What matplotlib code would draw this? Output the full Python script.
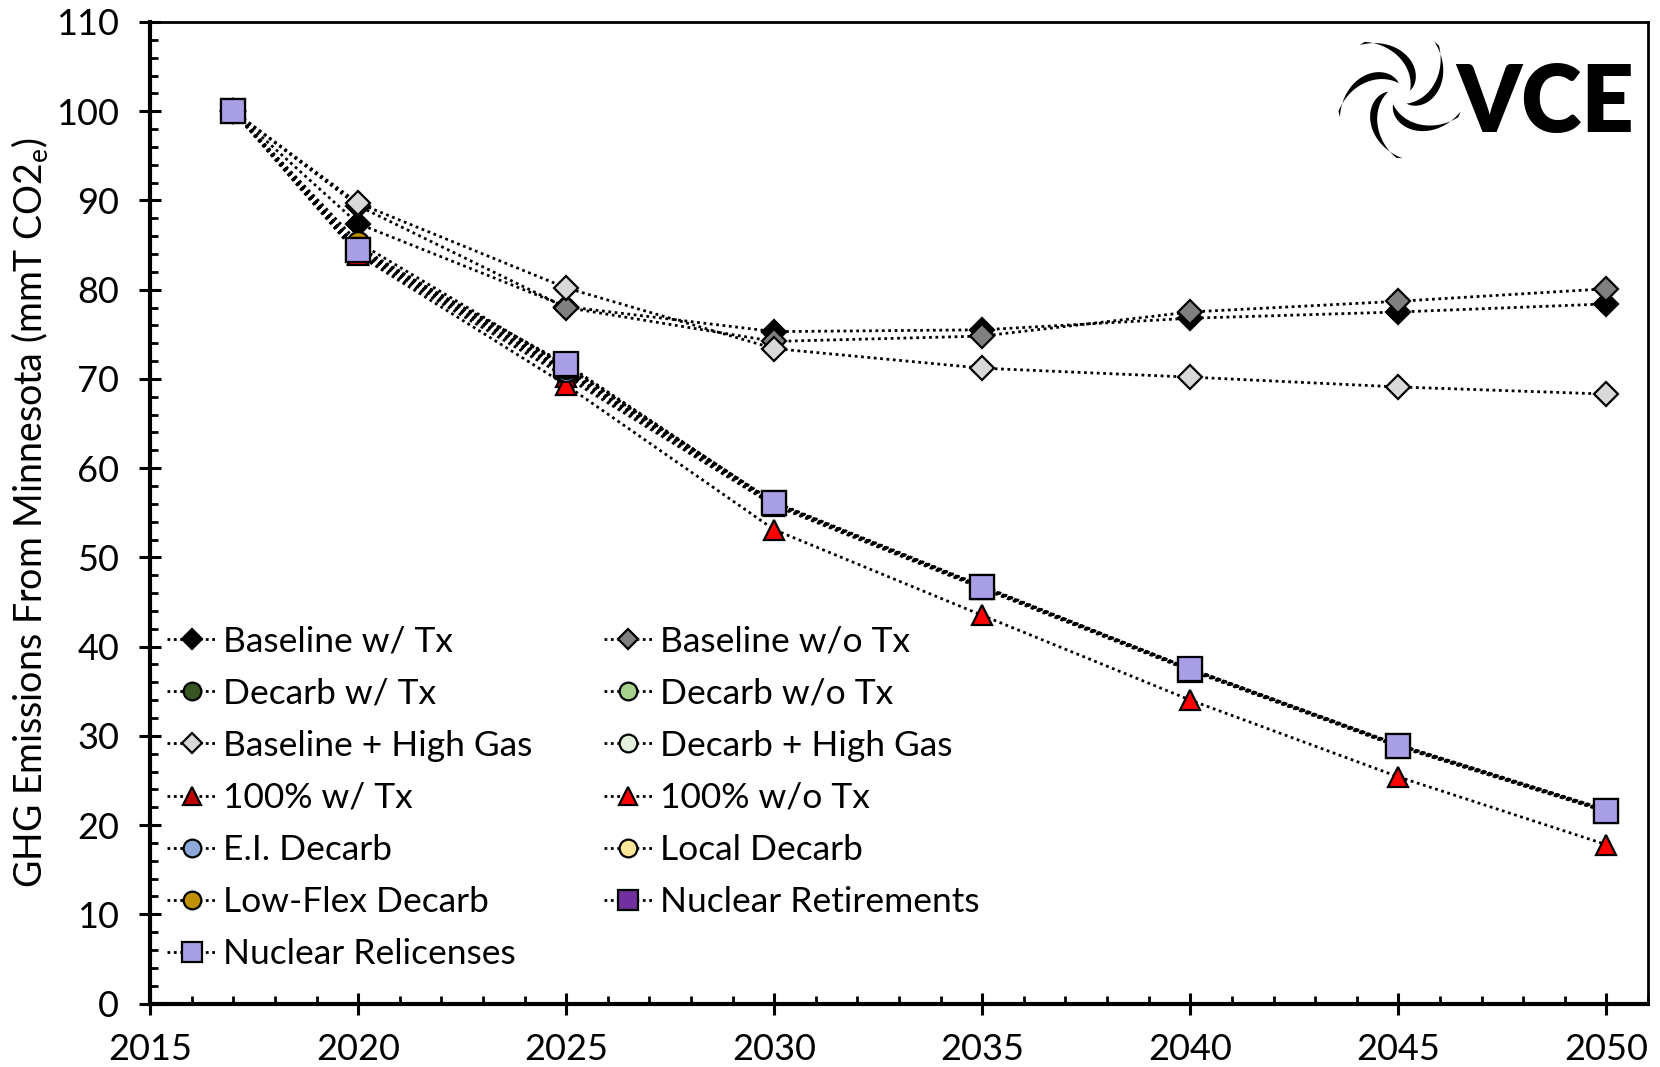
import matplotlib
matplotlib.use("Agg")
import matplotlib.pyplot as plt
from matplotlib.ticker import MultipleLocator
import numpy as np

# ---- data ----
years = [2017, 2020, 2025, 2030, 2035, 2040, 2045, 2050]

baseline_tx = [100, 87.4, 78.1, 75.3, 75.5, 76.8, 77.5, 78.4]
baseline_notx = [100, 89.4, 78.0, 74.2, 74.8, 77.5, 78.7, 80.1]
decarb_tx = [100, 84.2, 70.8, 56.0, 46.6, 37.4, 28.9, 21.6]
decarb_notx = [100, 84.6, 71.0, 56.1, 46.7, 37.5, 29.0, 21.7]
baseline_gas = [100, 89.7, 80.2, 73.4, 71.2, 70.2, 69.1, 68.3]
decarb_gas = [100, 84.3, 70.5, 55.9, 46.6, 37.4, 28.8, 21.5]
full_tx = [100, 84.0, 70.2, 55.8, 46.5, 37.3, 28.8, 21.5]
full_notx = [100, 83.9, 69.3, 53.1, 43.5, 34.0, 25.4, 17.8]
ei_decarb = [100, 84.4, 70.9, 56.0, 46.7, 37.4, 28.9, 21.6]
local_decarb = [100, 84.8, 71.2, 56.1, 46.7, 37.5, 28.9, 21.6]
lowflex_decarb = [100, 85.3, 71.4, 56.2, 46.8, 37.5, 29.0, 21.7]
nuc_retire = [100, 84.5, 71.6, 56.1, 46.7, 37.4, 28.9, 21.6]
nuc_relicense = [100, 84.5, 71.65, 56.07, 46.65, 37.5, 28.9, 21.6]

# label, values, marker, face colour
series = [
    ("Baseline w/ Tx", baseline_tx, "D", "#000000"),
    ("Baseline w/o Tx", baseline_notx, "D", "#808080"),
    ("Decarb w/ Tx", decarb_tx, "o", "#375623"),
    ("Decarb w/o Tx", decarb_notx, "o", "#a9d18e"),
    ("Baseline + High Gas", baseline_gas, "D", "#d9d9d9"),
    ("Decarb + High Gas", decarb_gas, "o", "#e2efda"),
    ("100% w/ Tx", full_tx, "^", "#c00000"),
    ("100% w/o Tx", full_notx, "^", "#ff0000"),
    ("E.I. Decarb", ei_decarb, "o", "#8eaadb"),
    ("Local Decarb", local_decarb, "o", "#ffe699"),
    ("Low-Flex Decarb", lowflex_decarb, "o", "#bf9000"),
    ("Nuclear Retirements", nuc_retire, "s", "#7030a0"),
    ("Nuclear Relicenses", nuc_relicense, "s", "#a99fe6"),
]
marker_size = {"D": 12.5, "o": 15, "^": 15, "s": 17}

plt.rcParams["font.family"] = ["Lato", "DejaVu Sans"]

fig = plt.figure(figsize=(16.6, 10.67), dpi=100)
ax = fig.add_axes([0.0904, 0.0595, 0.9024, 0.9199])

handles = {}
for label, vals, mk, col in series:
    h, = ax.plot(years, vals, linestyle=(0, (1, 1.3)), color="black", linewidth=2,
                 marker=mk, markersize=marker_size[mk], markerfacecolor=col,
                 markeredgecolor="black", markeredgewidth=1.6, label=label)
    handles[label] = h

ax.set_xlim(2015, 2051)
ax.set_ylim(0, 110)
ax.xaxis.set_major_locator(MultipleLocator(5))
ax.xaxis.set_minor_locator(MultipleLocator(1))
ax.yaxis.set_major_locator(MultipleLocator(10))
ax.yaxis.set_minor_locator(MultipleLocator(2))
ax.tick_params(which="major", direction="inout", length=16.5, width=2.2, labelsize=26)
ax.tick_params(axis="y", which="major", pad=14)
ax.tick_params(axis="x", which="major", pad=13)
ax.tick_params(which="minor", direction="in", length=6, width=2)
for side in ["left", "bottom"]:
    ax.spines[side].set_linewidth(3)
for side in ["top", "right"]:
    ax.spines[side].set_linewidth(2)

ax.set_ylabel("GHG Emissions From Minnesota (mmT CO2$_\\mathregular{e}$)", fontsize=27)
ax.yaxis.set_label_coords(-0.066, 0.5)

# legend: two columns, row-wise order as in the original
order = [s[0] for s in series]
col1 = order[0::2]
col2 = order[1::2]
leg_labels = col1 + col2
leg = ax.legend([handles[l] for l in leg_labels], leg_labels, ncol=2, loc="lower left",
                bbox_to_anchor=(-0.003, 0.012), frameon=False, fontsize=25.5,
                handlelength=1.4, handletextpad=0.2, labelspacing=0.57,
                columnspacing=2.0, borderaxespad=0.2, markerscale=0.85)

# VCE logo
logo = fig.add_axes([0.803, 0.849, 0.08, 0.1245])
logo.set_xlim(-1.2, 1.2)
logo.set_ylim(-1.2, 1.2)
logo.set_aspect("equal")
logo.axis("off")
t = np.linspace(0, 1, 60)
for k in range(5):
    a0 = np.deg2rad(72 * k + 20)
    ang = a0 + 1.9 * t
    r_out = 0.2 + 0.95 * t
    w = 0.22 * np.sin(np.pi * t) + 0.01
    xo = r_out * np.cos(ang)
    yo = r_out * np.sin(ang)
    xi = (r_out - w) * np.cos(ang - 0.1)
    yi = (r_out - w) * np.sin(ang - 0.1)
    logo.fill(np.concatenate([xo, xi[::-1]]), np.concatenate([yo, yi[::-1]]),
              color="black", lw=0)
fig.text(0.9307, 0.902, "VCE", fontsize=66, fontweight="heavy", family=["Lato", "DejaVu Sans"],
         ha="center", va="center")

fig.savefig("out.png", dpi=100)
